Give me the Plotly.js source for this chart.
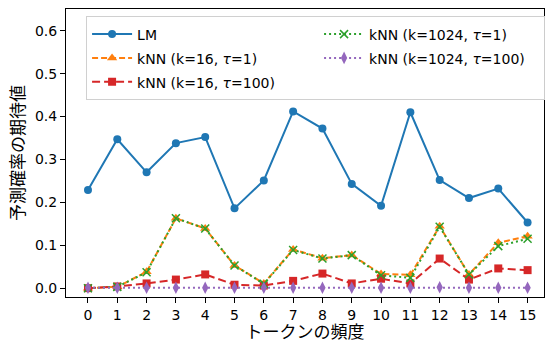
<!DOCTYPE html>
<html><head><meta charset="utf-8">
<script src="https://cdn.plot.ly/plotly-3.0.1.min.js"></script>
<style>body{margin:0;background:#fff}</style></head>
<body><div id="chart" style="width:545px;height:342px"></div>
<script>
const freq = [0,1,2,3,4,5,6,7,8,9,10,11,12,13,14,15];
const tickLabels = ["0","1","2","3","4","5","6","7","8","9","10","11","12","13","14","15"];
const lm        = [0.229,0.347,0.270,0.338,0.352,0.186,0.251,0.412,0.372,0.243,0.192,0.410,0.252,0.210,0.232,0.153];
const knn16t1   = [0.000,0.003,0.038,0.163,0.139,0.053,0.011,0.090,0.070,0.077,0.033,0.031,0.144,0.032,0.106,0.121];
const knn16t100 = [0.000,0.004,0.011,0.020,0.032,0.008,0.006,0.017,0.034,0.011,0.022,0.011,0.069,0.020,0.046,0.042];
const knn1024t1 = [0.000,0.003,0.037,0.163,0.139,0.053,0.010,0.089,0.069,0.077,0.030,0.024,0.143,0.032,0.098,0.115];
const knn1024t100=[0.001,0.001,0.001,0.001,0.001,0.001,0.001,0.001,0.001,0.001,0.001,0.001,0.002,0.001,0.001,0.001];
const names = ["LM","kNN (k=16, <i>τ</i>=1)","kNN (k=16, <i>τ</i>=100)","kNN (k=1024, <i>τ</i>=1)","kNN (k=1024, <i>τ</i>=100)"];
const lbl = s => "<span style='font-size:14px'>" + s + "</span>";

const FONT = "DejaVu Sans, 'Noto Sans CJK JP', sans-serif";
const traces = [
  {x:freq,y:lm,name:lbl(names[0]),mode:"lines+markers",legendrank:1,
   line:{color:"#1f77b4",width:2},marker:{symbol:"circle",size:8,color:"#1f77b4"}},
  {x:freq,y:knn16t1,name:lbl(names[1]),mode:"lines+markers",legendrank:3,
   line:{color:"#ff7f0e",width:2,dash:"6px,3px"},marker:{symbol:"triangle-up",size:9,color:"#ff7f0e"}},
  {x:freq,y:knn16t100,name:lbl(names[2]),mode:"lines+markers",legendrank:5,
   line:{color:"#d62728",width:2,dash:"8px,4px"},marker:{symbol:"square",size:8,color:"#d62728"}},
  {x:freq,y:knn1024t1,name:lbl(names[3]),mode:"lines+markers",legendrank:2,
   line:{color:"#2ca02c",width:2,dash:"2px,3px"},marker:{symbol:"x-thin-open",size:8,color:"#2ca02c",line:{color:"#2ca02c",width:1.5}}},
  {x:freq,y:knn1024t100,name:lbl(names[4]),mode:"lines+markers",legendrank:4,
   line:{color:"#9467bd",width:2,dash:"2px,3px"},marker:{symbol:"diamond-tall",size:9,color:"#9467bd"}}
];
const layout = {
  width:545,height:342,
  margin:{l:66,r:1,t:9,b:45,autoexpand:false},
  paper_bgcolor:"#fff",plot_bgcolor:"#fff",
  font:{family:FONT,size:14,color:"#000"},
  showlegend:true,
  legend:{orientation:"h",x:0.042,y:0.975,xanchor:"left",yanchor:"top",
    entrywidth:177,bgcolor:"rgba(255,255,255,0.8)",bordercolor:"#d0d0d0",borderwidth:1,
    font:{family:FONT,size:16},itemwidth:40},
  xaxis:{range:[-0.75,15.56],tickmode:"array",tickvals:freq,ticktext:tickLabels,
    showgrid:false,zeroline:false,showline:true,mirror:true,linecolor:"#000",linewidth:1,
    ticks:"outside",ticklen:5,tickcolor:"#000",tickfont:{size:14},
    title:{text:"トークンの頻度",font:{size:17},standoff:4}},
  yaxis:{range:[-0.0206,0.6506],tickvals:[0,0.1,0.2,0.3,0.4,0.5,0.6],
    ticktext:["0.0","0.1","0.2","0.3","0.4","0.5","0.6"],
    showgrid:false,zeroline:false,showline:true,mirror:true,linecolor:"#000",linewidth:1,
    ticks:"outside",ticklen:5,tickcolor:"#000",tickfont:{size:14},
    title:{text:"予測確率の期待値",font:{size:17},standoff:5}}
};
Plotly.newPlot("chart",traces,layout,{displayModeBar:false,staticPlot:true});
</script></body></html>
